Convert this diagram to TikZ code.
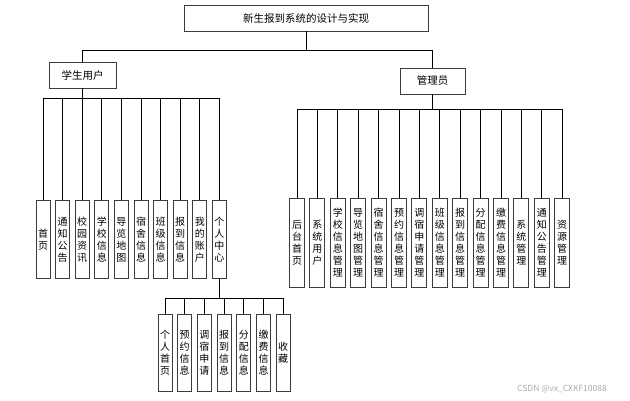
\documentclass[tikz,border=0pt]{standalone}
\usepackage{fontspec}
\setmainfont{Noto Sans CJK SC}
\definecolor{boxcol}{RGB}{60,60,60}
\definecolor{markcol}{RGB}{170,170,170}
\tikzset{
  box/.style={draw=boxcol, line width=0.9pt, fill=white, inner sep=0pt, font=\fontsize{10.5}{12}\selectfont},
  vbox/.style={box, anchor=north, minimum width=14pt, align=center, font=\fontsize{10}{12}\selectfont},
  link/.style={line width=0.8pt}
}

\begin{document}
\begin{tikzpicture}[x=1pt, y=-1pt]
    \useasboundingbox (0,0) rectangle (630,400);

    \node[box, minimum width=244pt, minimum height=26pt] (sys) at (306,18) {新生报到系统的设计与实现};
    \node[box, minimum width=67pt, minimum height=26pt] (stu) at (82.5,75) {学生用户};
    \node[box, minimum width=65pt, minimum height=26pt] (adm) at (432.5,81) {管理员};

    \draw[link] (sys.south) -- ++(0,19) -| (stu.north);
    \draw[link] (sys.south) -- ++(0,19) -| (adm.north);

    % student side
    \foreach \lab [count=\i from 0] in {{首\\页}, {通\\知\\公\\告}, {校\\园\\资\\讯}, {学\\校\\信\\息}, {导\\览\\地\\图},
        {宿\\舍\\信\\息}, {班\\级\\信\\息}, {报\\到\\信\\息}, {我\\的\\账\\户}, {个\\人\\中\\心}} {
        \node[vbox, minimum height=78pt] (s\i) at (43+19.6*\i,200) {\lab};
        \draw[link] (stu.south) -- ++(0,10) -| (s\i.north);
    }

    % admin side
    \foreach \lab [count=\i from 0] in {{后\\台\\首\\页}, {系\\统\\用\\户}, {学\\校\\信\\息\\管\\理}, {导\\览\\地\\图\\管\\理},
        {宿\\舍\\信\\息\\管\\理}, {预\\约\\信\\息\\管\\理}, {调\\宿\\申\\请\\管\\理}, {班\\级\\信\\息\\管\\理},
        {报\\到\\信\\息\\管\\理}, {分\\配\\信\\息\\管\\理}, {缴\\费\\信\\息\\管\\理}, {系\\统\\管\\理},
        {通\\知\\公\\告\\管\\理}, {资\\源\\管\\理}} {
        \node[vbox, minimum width=15pt, minimum height=89pt] (a\i) at (297+20.4*\i,198) {\lab};
        \draw[link] (adm.south) -- ++(0,15) -| (a\i.north);
    }

    % personal centre
    \foreach \lab [count=\i from 0] in {{个\\人\\首\\页}, {预\\约\\信\\息}, {调\\宿\\申\\请}, {报\\到\\信\\息},
        {分\\配\\信\\息}, {缴\\费\\信\\息}, {收\\藏}} {
        \node[vbox, minimum height=77pt] (p\i) at (165+19.7*\i,314) {\lab};
        \draw[link] (s9.south) -- ++(0,19) -| (p\i.north);
    }

    \node[markcol, font=\fontsize{8.5}{10}\selectfont] (mark) at (562,389) {CSDN @vx\_CXKF10088};

\end{tikzpicture}
\end{document}
